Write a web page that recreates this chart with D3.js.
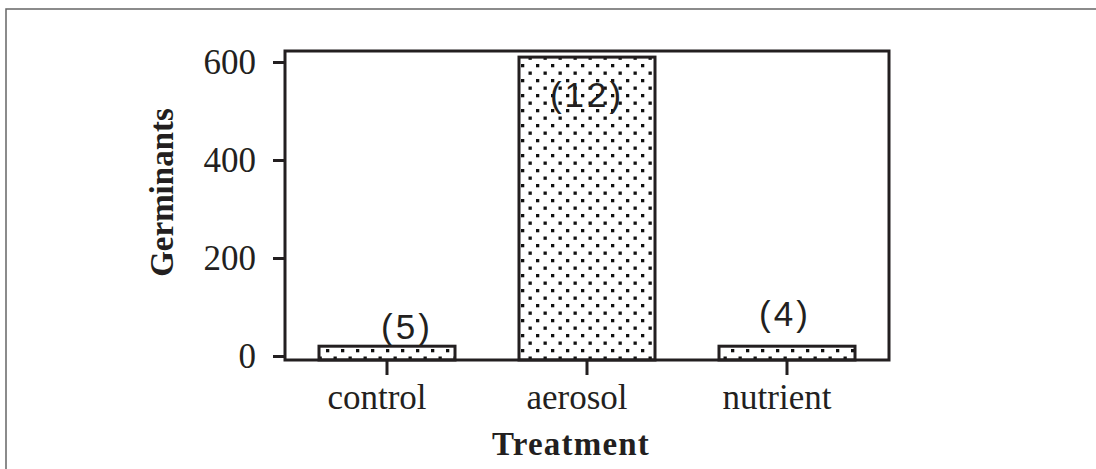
<!DOCTYPE html>
<html lang="en">
<head>
  <meta charset="UTF-8" />
  <title>Germinants by treatment</title>
  <script src="https://d3js.org/d3.v7.min.js"></script>
  <style>
    body { margin: 0; background: white; }
    svg { display: block; }
    .tick text { font-family: 'Liberation Serif', 'Times New Roman', serif; font-size: 35px; fill: #231f20; }
  </style>
</head>
<body>
  <svg id="chart" width="1096" height="469"></svg>

  <script>
    // data
    const treatments = ["control", "aerosol", "nutrient"];
    const germinants = [20, 610, 20];
    const counts = ["(5)", "(12)", "(4)"];
    const yTicks = [0, 200, 400, 600];

    const svg = d3.select("#chart");
    const ink = "#231f20";

    // outer frame, runs off the right and bottom edge
    svg.append("rect")
      .attr("x", 6).attr("y", 9)
      .attr("width", 1200).attr("height", 600)
      .attr("fill", "none").attr("stroke", "#666").attr("stroke-width", 1.5);

    // dotted fill
    const pat = svg.append("defs").append("pattern")
      .attr("id", "dots").attr("patternUnits", "userSpaceOnUse")
      .attr("width", 15).attr("height", 15)
      .attr("x", 326).attr("y", 64);
    pat.append("rect").attr("x", 0).attr("y", 0).attr("width", 3.3).attr("height", 3.3).attr("fill", "#111");
    pat.append("rect").attr("x", 7.5).attr("y", 7.5).attr("width", 3.3).attr("height", 3.3).attr("fill", "#111");

    const plotL = 285, plotR = 889, plotT = 51, plotB = 360;

    const x = d3.scaleBand().domain(treatments).range([287, 887])
      .paddingInner(0.32).paddingOuter(0.16);
    const y = d3.scaleLinear().domain([0, 600]).range([356, 62]);

    // plot frame
    svg.append("rect")
      .attr("x", plotL).attr("y", plotT)
      .attr("width", plotR - plotL).attr("height", plotB - plotT)
      .attr("fill", "none").attr("stroke", ink).attr("stroke-width", 3);

    // bars
    svg.selectAll("rect.bar")
      .data(germinants).enter().append("rect")
      .attr("class", "bar")
      .attr("x", (d, i) => x(treatments[i]))
      .attr("width", x.bandwidth())
      .attr("y", d => y(d))
      .attr("height", d => plotB - y(d))
      .attr("fill", "url(#dots)")
      .attr("stroke", ink).attr("stroke-width", 3);

    // y axis
    const yAxis = svg.append("g")
      .attr("transform", `translate(${plotL},0)`)
      .call(d3.axisLeft(y).tickValues(yTicks).tickSize(12).tickPadding(17));
    yAxis.select(".domain").remove();
    yAxis.selectAll(".tick line").attr("stroke", ink).attr("stroke-width", 3);

    // x axis
    const xAxis = svg.append("g")
      .attr("transform", `translate(0,${plotB})`)
      .call(d3.axisBottom(x).tickSize(15).tickPadding(7));
    xAxis.select(".domain").remove();
    xAxis.selectAll(".tick line").attr("stroke", ink).attr("stroke-width", 3);
    xAxis.selectAll(".tick text").attr("dy", "0.78em").attr("dx", -10);

    // counts above bars
    const countDx = [20, 0, -2];
    const countY = [339, 107, 326];
    svg.selectAll("text.count")
      .data(counts).enter().append("text")
      .attr("class", "count")
      .attr("x", (d, i) => x(treatments[i]) + x.bandwidth() / 2 + countDx[i])
      .attr("y", (d, i) => countY[i])
      .attr("text-anchor", "middle")
      .attr("font-family", "'Liberation Sans', Arial, sans-serif")
      .attr("font-size", 35)
      .attr("letter-spacing", 3)
      .attr("fill", ink)
      .text(d => d);

    // axis titles
    svg.append("text")
      .attr("x", (plotL + plotR) / 2 - 16).attr("y", 455)
      .attr("text-anchor", "middle")
      .attr("font-family", "'Liberation Serif', serif")
      .attr("font-weight", "bold").attr("font-size", 33)
      .attr("letter-spacing", 1.2)
      .attr("fill", ink)
      .text("Treatment");

    svg.append("text")
      .attr("transform", `translate(173,${(108 + 277) / 2}) rotate(-90)`)
      .attr("text-anchor", "middle")
      .attr("font-family", "'Liberation Serif', serif")
      .attr("font-weight", "bold").attr("font-size", 33)
      .attr("fill", ink)
      .text("Germinants");
  </script>
</body>
</html>
